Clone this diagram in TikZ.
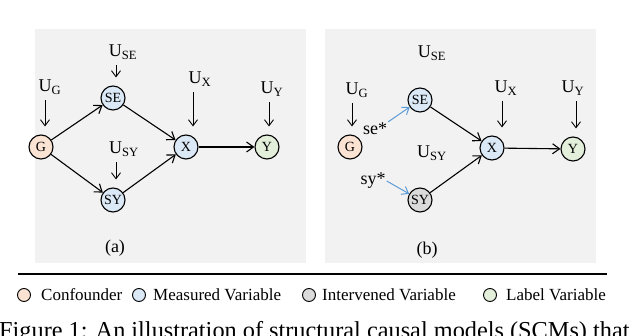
\documentclass[tikz,border=0pt]{standalone}
\usepackage{fontspec}
\setmainfont{Liberation Serif}
\usetikzlibrary{arrows.meta}

\definecolor{confcol}{RGB}{251,227,211}
\definecolor{meascol}{RGB}{219,232,246}
\definecolor{intcol}{RGB}{219,219,219}
\definecolor{labcol}{RGB}{227,239,218}
\definecolor{panelcol}{RGB}{242,242,242}
\definecolor{intvblue}{RGB}{91,155,213}

\begin{document}
\begin{tikzpicture}[x=1pt,y=-1pt,
	var/.style={circle,draw,line width=1.1pt,minimum size=24pt,inner sep=0pt,font=\fontsize{14}{14}\selectfont},
	ulab/.style={inner sep=1pt,font=\fontsize{18}{18}\selectfont},
	edge/.style={line width=1.1pt,-{Straight Barb[length=7pt,width=10pt]}},
	uarr/.style={line width=0.9pt,-{Straight Barb[length=6pt,width=9pt]},shorten >=8pt,shorten <=5pt},
	intarr/.style={intvblue,line width=1pt,-{Straight Barb[length=6pt,width=9pt]}},
	legdot/.style={circle,draw,line width=0.9pt,minimum size=13pt,inner sep=0pt},
	legtxt/.style={anchor=west,inner sep=0pt,font=\fontsize{17}{17}\selectfont}]
	\useasboundingbox (0,0) rectangle (640,336);
	\clip (0,0) rectangle (640,336);
	
	% Paneles
	\fill[panelcol] (35,29) rectangle (306,263);
	\fill[panelcol] (325,29) rectangle (596,263);
	
	% (a) SCM original
	\node[var,fill=confcol] (ga) at (41,147) {G};
	\node[var,fill=meascol] (sea) at (113,98) {SE};
	\node[var,fill=meascol] (sya) at (113,200) {SY};
	\node[var,fill=meascol] (xa) at (186,147) {X};
	\node[var,fill=labcol] (ya) at (267,147) {Y};
	\draw[edge] (ga) -- (sea);
	\draw[edge] (ga) -- (sya);
	\draw[edge] (sea) -- (xa);
	\draw[edge] (sya) -- (xa);
	\draw[edge] (xa) -- (ya);
	
	\node[ulab] (uga) at (50,87) {U\textsubscript{G}};
	\node[ulab] (usea) at (123,52) {U\textsubscript{SE}};
	\node[ulab] (usya) at (124,149) {U\textsubscript{SY}};
	\node[ulab] (uxa) at (200,79) {U\textsubscript{X}};
	\node[ulab] (uya) at (272,89) {U\textsubscript{Y}};
	\draw[uarr] ([xshift=-5pt]uga.south) -- ([xshift=-5pt]uga.south |- ga.north);
	\draw[uarr] ([xshift=-7pt]usea.south) -- ([xshift=-7pt]usea.south |- sea.north);
	\draw[uarr] ([xshift=-8pt]usya.south) -- ([xshift=-8pt]usya.south |- sya.north);
	\draw[uarr] ([xshift=-7pt]uxa.south) -- ([xshift=-7pt]uxa.south |- xa.north);
	\draw[uarr] ([xshift=-3pt]uya.south) -- ([xshift=-3pt]uya.south |- ya.north);
	\node[ulab] (capa) at (115,248) {(a)};
	
	% (b) SCM con intervencion
	\node[var,fill=confcol] (gb) at (350,147) {G};
	\node[var,fill=meascol] (seb) at (420,100) {SE};
	\node[var,fill=intcol] (syb) at (420,200) {SY};
	\node[var,fill=meascol] (xb) at (492,148) {X};
	\node[var,fill=labcol] (yb) at (573,149) {Y};
	\draw[edge] (seb) -- (xb);
	\draw[edge] (syb) -- (xb);
	\draw[edge] (xb) -- (yb);
	
	\node[ulab] (ugb) at (357,90) {U\textsubscript{G}};
	\node[ulab] (useb) at (432,53) {U\textsubscript{SE}};
	\node[ulab] (usyb) at (432,153) {U\textsubscript{SY}};
	\node[ulab] (uxb) at (506,88) {U\textsubscript{X}};
	\node[ulab] (uyb) at (573,88) {U\textsubscript{Y}};
	\draw[uarr] ([xshift=-5pt]ugb.south) -- ([xshift=-5pt]ugb.south |- gb.north);
	\draw[uarr] ([xshift=-4pt]uxb.south) -- ([xshift=-4pt]uxb.south |- xb.north);
	\draw[uarr] ([xshift=3pt]uyb.south) -- ([xshift=3pt]uyb.south |- yb.north);
	
	\node[ulab] (sestar) at (375,129) {se*};
	\node[ulab] (systar) at (373,181) {sy*};
	\draw[intarr] (sestar.north east) -- (seb);
	\draw[intarr] (systar.east) -- (syb);
	\node[ulab] (capb) at (427,250) {(b)};
	
	% Leyenda
	\draw[line width=1.3pt] (18,274) -- (607,274);
	\node[legdot,fill=confcol] (lconf) at (24,295) {};
	\node[legtxt] (tconf) at (41,295) {Confounder};
	\node[legdot,fill=meascol] (lmeas) at (139,295) {};
	\node[legtxt] (tmeas) at (153,295) {Measured Variable};
	\node[legdot,fill=intcol] (lint) at (309,295) {};
	\node[legtxt] (tint) at (322,295) {Intervened Variable};
	\node[legdot,fill=labcol] (llab) at (490,295) {};
	\node[legtxt] (tlab) at (506,295) {Label Variable};
	
	% Pie de figura (cortado)
	\node[anchor=base west,inner sep=0pt,font=\fontsize{24.3}{24.3}\selectfont] (fig) at (-1,339) {Figure 1: An illustration of structural causal models (SCMs) that};
\end{tikzpicture}
\end{document}
